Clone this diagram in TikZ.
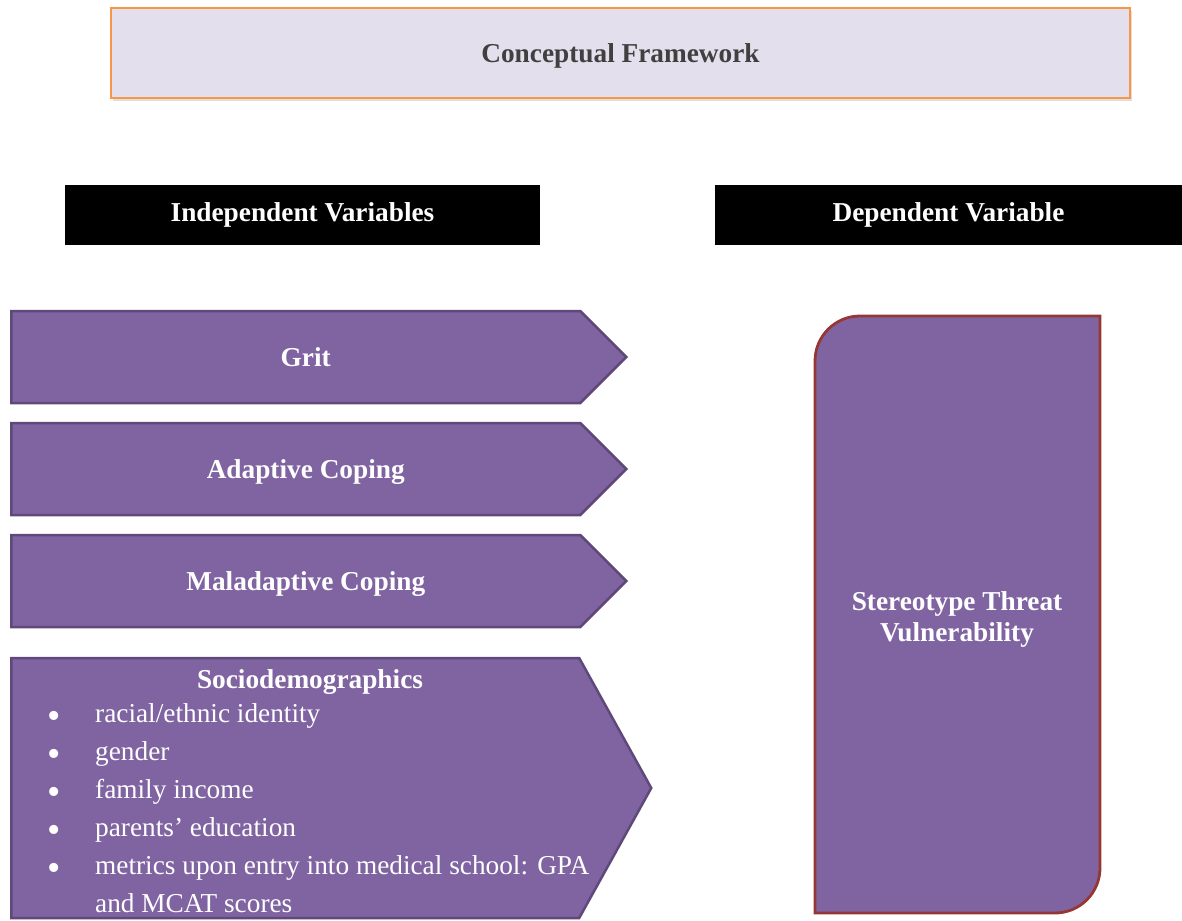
\documentclass[tikz,border=0pt]{standalone}
\usepackage{fontspec}
\setmainfont{Liberation Serif}
\usetikzlibrary{shapes.symbols,shadows}

\definecolor{varfill}{HTML}{8064A2}
\definecolor{varline}{HTML}{5F497A}
\definecolor{depline}{HTML}{953735}
\definecolor{titlefill}{HTML}{E4DFEC}
\definecolor{titleline}{HTML}{F79646}

\newcommand{\listdot}{\raisebox{-6pt}{\fontsize{38}{38}\selectfont\textbullet}}

\tikzset{
  bigfont/.style={font=\fontsize{27.3}{38}\selectfont},
  titlebox/.style={draw=titleline, line width=1.5pt, fill=titlefill,
    minimum width=1019pt, minimum height=90pt, text=black!75, text depth=0pt,
    drop shadow={opacity=0.25, shadow xshift=2pt, shadow yshift=-3pt}},
  headbox/.style={fill=black, text=white, minimum height=60pt},
  varbox/.style={shape=signal, signal to=east, signal pointer angle=90,
    draw=varline, line width=2.5pt, fill=varfill, text=white,
    minimum height=92pt, minimum width=615pt, inner sep=0pt, text depth=0pt,
    execute at begin node=\hspace*{20pt}},
}

\begin{document}
\begin{tikzpicture}[x=1pt,y=1pt,bigfont]
\useasboundingbox (0,0) rectangle (1182,-920);

% title
\node[titlebox] (title) at (620.5,-53) {\textbf{Conceptual Framework}};

% column headers
\node[headbox, minimum width=475pt] (indep) at (302.5,-215) {\textbf{Independent Variables}};
\node[headbox, minimum width=467pt] (dep) at (948.5,-215) {\textbf{Dependent Variable}};

% independent variables
\node[varbox, anchor=west] (grit) at (10,-357) {\textbf{Grit}};
\node[varbox, anchor=west] (adapt) at (10,-469) {\textbf{Adaptive Coping}};
\node[varbox, anchor=west] (malad) at (10,-581) {\textbf{Maladaptive Coping}};
\node[varbox, anchor=west, minimum height=260pt, minimum width=640pt,
  signal pointer angle=122] (socio) at (10,-788) {};
\node[text=white] (sociotitle) at (310,-682) {\textbf{Sociodemographics}};
\node[anchor=north west, inner sep=0pt, text=white] (sociolist) at (47,-696) {%
  \begin{tabular}{@{}p{48pt}@{}l@{}}
  \listdot & racial/ethnic identity\\
  \listdot & gender\\
  \listdot & family income\\
  \listdot & parents’ education\\
  \listdot & metrics upon entry into medical school: GPA\\
           & and MCAT scores
  \end{tabular}};

% dependent variable
\draw[depline, line width=2.8pt, fill=varfill]
  (815,-361) arc (180:90:45) -- (1100,-316) -- (1100,-868)
  arc (0:-90:45) -- (815,-913) -- cycle;
\node[text=white, align=center, font=\fontsize{27.3}{31}\selectfont] (dv) at (957,-619)
  {\textbf{Stereotype Threat}\\\textbf{Vulnerability}};
\end{tikzpicture}
\end{document}
